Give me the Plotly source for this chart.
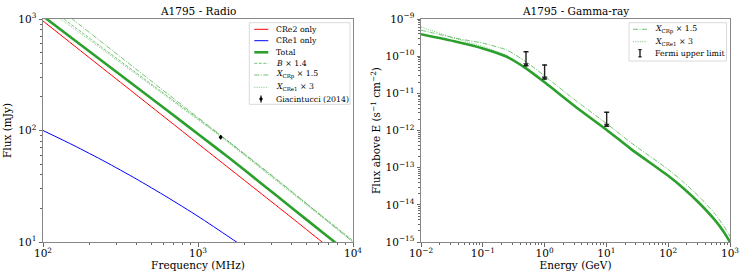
import plotly.graph_objects as go

# ---------------- data ----------------
# Radio panel (frequency in MHz, flux in mJy)
cre2_freq = [100, 158.5, 251.2, 398.1, 631, 1000, 1585, 2512, 3981, 6310, 10000]
cre2_flux = [960, 578, 348, 210, 126.5, 76.2, 45.9, 27.7, 16.7, 10.0, 6.0]

cre1_freq = [100, 158.5, 251.2, 398.1, 631, 1000, 1585, 2512]
cre1_flux = [100, 73.3, 52.6, 36.9, 25.3, 17.0, 11.1, 7.2]

total_freq = [100, 158.5, 251.2, 398.1, 631, 1000, 1585, 2512, 3981, 6310, 10000]
total_flux = [1060, 651, 401, 247, 152, 93, 57, 34.2, 20.5, 12.3, 7.4]

b14_freq = [100, 136.5, 569, 1430, 3000, 10000]
b14_flux = [1400, 1000, 228, 88, 39, 10.3]

xcrp_freq = [100, 154.5, 569, 1430, 3000, 10000]
xcrp_flux = [1607, 1000, 241, 88.5, 39.5, 10]

xcre1_freq = [100, 130, 569, 1430, 3000, 10000]
xcre1_flux = [1283, 1000, 222, 86, 38, 10]

giac_freq = [1400]
giac_flux = [87]
giac_err = [4]

# Gamma-ray panel (energy in GeV, integral flux in s^-1 cm^-2)
g_energy = [0.01, 0.0372, 0.1, 0.24, 0.5, 1.05, 3.16, 10, 25.1, 100, 177.8, 316.2, 562.3, 794.3, 1000]
g_total = [3.89e-10, 2.45e-10, 1.62e-10, 9.77e-11, 4.68e-11, 1.86e-11, 4.37e-12, 1.05e-12,
           3.16e-13, 6.03e-14, 2.75e-14, 1.12e-14, 3.98e-15, 1.86e-15, 1.0e-15]
g_xcrp = [5.01e-10, 3.02e-10, 2.24e-10, 1.48e-10, 7.08e-11, 2.75e-11, 6.46e-12, 1.55e-12,
          4.68e-13, 8.91e-14, 4.07e-14, 1.66e-14, 5.89e-15, 2.69e-15, 1.41e-15]
g_xcre1 = [6.10e-10, 2.95e-10, 1.82e-10, 1.05e-10, 4.90e-11, 1.95e-11, 4.57e-12, 1.10e-12,
           3.31e-13, 6.31e-14, 2.88e-14, 1.17e-14, 4.17e-15, 1.95e-15, 1.05e-15]

fermi_energy = [0.5, 1.0, 10.1]
fermi_ul = [1.32e-10, 5.8e-11, 3.1e-12]

# tick labels
r_xticks = [100, 1000, 10000]
r_xtext = ["10<sup>2</sup>", "10<sup>3</sup>", "10<sup>4</sup>"]
r_yticks = [10, 100, 1000]
r_ytext = ["10<sup>1</sup>", "10<sup>2</sup>", "10<sup>3</sup>"]
g_xticks = [0.01, 0.1, 1, 10, 100, 1000]
g_xtext = ["10<sup>−2</sup>", "10<sup>−1</sup>", "10<sup>0</sup>", "10<sup>1</sup>", "10<sup>2</sup>", "10<sup>3</sup>"]
g_yticks = [1e-15, 1e-14, 1e-13, 1e-12, 1e-11, 1e-10, 1e-9]
g_ytext = ["10<sup>−15</sup>", "10<sup>−14</sup>", "10<sup>−13</sup>", "10<sup>−12</sup>",
           "10<sup>−11</sup>", "10<sup>−10</sup>", "10<sup>−9</sup>"]

# ---------------- styling ----------------
W, H = 747, 280
FONT = "DejaVu Serif"
GREEN = "#2ca02c"
LGREEN = "rgba(44,160,44,0.72)"
DASH_B = "3px,1.5px"
DASH_CRP = "5px,1.5px,1px,1.5px"
DASH_CRE1 = "1px,1.3px"
SMOOTH = 0.6


def px(x):
    return x / W


def py(y):
    return 1 - y / H


def minor_vals(lo, hi):
    vals = []
    for e in range(lo, hi):
        for m in range(2, 10):
            vals.append(m * 10 ** e)
    return vals


def curve(x, y, color, width, dash, xa, ya):
    return go.Scatter(x=x, y=y, mode="lines",
                      line=dict(color=color, width=width, dash=dash, shape="spline", smoothing=SMOOTH),
                      xaxis=xa, yaxis=ya, showlegend=False)


fig = go.Figure()

# Radio panel
fig.add_trace(curve(cre2_freq, cre2_flux, "red", 1, "solid", "x", "y"))
fig.add_trace(curve(cre1_freq, cre1_flux, "blue", 1, "solid", "x", "y"))
fig.add_trace(curve(b14_freq, b14_flux, LGREEN, 0.9, DASH_B, "x", "y"))
fig.add_trace(curve(xcrp_freq, xcrp_flux, LGREEN, 0.9, DASH_CRP, "x", "y"))
fig.add_trace(curve(xcre1_freq, xcre1_flux, LGREEN, 0.9, DASH_CRE1, "x", "y"))
fig.add_trace(curve(total_freq, total_flux, GREEN, 2.6, "solid", "x", "y"))
fig.add_trace(go.Scatter(x=giac_freq, y=giac_flux, mode="markers",
                         marker=dict(color="black", size=3.5),
                         error_y=dict(type="data", array=giac_err, color="black", thickness=1.2, width=0),
                         xaxis="x", yaxis="y", showlegend=False))

# Gamma panel
fig.add_trace(curve(g_energy, g_xcrp, LGREEN, 0.9, DASH_CRP, "x2", "y2"))
fig.add_trace(curve(g_energy, g_xcre1, LGREEN, 0.9, DASH_CRE1, "x2", "y2"))
fig.add_trace(curve(g_energy, g_total, GREEN, 2.6, "solid", "x2", "y2"))
ARROW = 0.42
fig.add_trace(go.Scatter(x=fermi_energy, y=fermi_ul, mode="markers",
                         marker=dict(color="black", size=1),
                         error_y=dict(type="data", symmetric=False, array=[0] * len(fermi_ul),
                                      arrayminus=[u * (1 - ARROW) for u in fermi_ul],
                                      color="#222", thickness=1.4, width=2.5),
                         xaxis="x2", yaxis="y2", showlegend=False))
fig.add_trace(go.Scatter(x=fermi_energy, y=[u * ARROW * 1.08 for u in fermi_ul], mode="markers",
                         marker=dict(color="#222", size=5, symbol="triangle-down"),
                         showlegend=False, xaxis="x2", yaxis="y2"))

axis_common = dict(type="log", showgrid=False, zeroline=False, showline=True, linecolor="#888",
                   linewidth=1, mirror=True, ticks="outside", ticklen=3.5, tickcolor="#666",
                   automargin=False,
                   tickfont=dict(family=FONT, size=10.5, color="black"),
                   title_font=dict(family=FONT, size=10.5, color="black"))

fig.update_layout(
    width=W, height=H, margin=dict(l=0, r=0, t=0, b=0),
    paper_bgcolor="white", plot_bgcolor="white", showlegend=False,
    font=dict(family=FONT, color="black"),
    xaxis=dict(axis_common, domain=[px(43), px(353)], range=[2, 4], anchor="y",
               tickvals=r_xticks, ticktext=r_xtext, ticklabelstandoff=-2,
               minor=dict(tickvals=minor_vals(2, 4), ticks="outside", ticklen=2, tickcolor="#666"),
               title=dict(text="Frequency (MHz)", standoff=0)),
    yaxis=dict(axis_common, domain=[py(242), py(19)], range=[1, 3], anchor="x",
               tickvals=r_yticks, ticktext=r_ytext,
               minor=dict(tickvals=minor_vals(1, 3), ticks="outside", ticklen=2, tickcolor="#666"),
               title=dict(text="Flux (mJy)", standoff=4)),
    xaxis2=dict(axis_common, domain=[px(421), px(730)], range=[-2, 3], anchor="y2",
                tickvals=g_xticks, ticktext=g_xtext, ticklabelstandoff=-2,
                minor=dict(tickvals=minor_vals(-2, 3), ticks="outside", ticklen=2, tickcolor="#666"),
                title=dict(text="Energy (GeV)", standoff=0)),
    yaxis2=dict(axis_common, domain=[py(242), py(19)], range=[-15, -9], anchor="x2",
                tickvals=g_yticks, ticktext=g_ytext,
                minor=dict(tickvals=minor_vals(-15, -9), ticks="outside", ticklen=2, tickcolor="#666"),
                title=dict(text="Flux above E (s<sup>−1</sup> cm<sup>−2</sup>)", standoff=2)),
)

annotations = [
    dict(text="A1795 - Radio", x=px(198), y=py(11), xref="paper", yref="paper", showarrow=False,
         font=dict(family=FONT, size=10.5, color="black"), xanchor="center", yanchor="middle"),
    dict(text="A1795 - Gamma-ray", x=px(575.5), y=py(11), xref="paper", yref="paper", showarrow=False,
         font=dict(family=FONT, size=10.5, color="black"), xanchor="center", yanchor="middle"),
]
shapes = []

# ---- legend (left) ----
shapes.append(dict(type="rect", xref="paper", yref="paper", x0=px(249.3), x1=px(350), y0=py(104.3), y1=py(22.7),
                   fillcolor="white", line=dict(color="#d0d0d0", width=0.8), layer="above"))
left_items = [
    ("CRe2 only", "red", 1, "solid"),
    ("CRe1 only", "blue", 1, "solid"),
    ("Total", GREEN, 2.6, "solid"),
    ("<i>B</i> × 1.4", LGREEN, 0.9, DASH_B),
    ("<i>X</i><sub>CRp</sub> × 1.5", LGREEN, 0.9, DASH_CRP),
    ("<i>X</i><sub>CRe1</sub> × 3", LGREEN, 0.9, DASH_CRE1),
    ("Giacintucci (2014)", None, None, None),
]
left_y = [29.3, 40.7, 52.3, 63.3, 75, 87.3, 99]
for (label, col, w, dash), yy in zip(left_items, left_y):
    if col is not None:
        shapes.append(dict(type="line", xref="paper", yref="paper", x0=px(254.3), x1=px(268.3),
                           y0=py(yy), y1=py(yy), line=dict(color=col, width=w, dash=dash), layer="above"))
    else:
        shapes.append(dict(type="line", xref="paper", yref="paper", x0=px(261), x1=px(261),
                           y0=py(yy - 3.5), y1=py(yy + 3.5), line=dict(color="black", width=1.2), layer="above"))
        shapes.append(dict(type="circle", xref="paper", yref="paper", x0=px(259.6), x1=px(262.4),
                           y0=py(yy - 1.4), y1=py(yy + 1.4), fillcolor="black", line=dict(color="black", width=0.5),
                           layer="above"))
    annotations.append(dict(text=label, x=px(274), y=py(yy), xref="paper", yref="paper", showarrow=False,
                            xanchor="left", yanchor="middle", font=dict(family=FONT, size=7.8, color="black")))

# ---- legend (right) ----
shapes.append(dict(type="rect", xref="paper", yref="paper", x0=px(629), x1=px(726.5), y0=py(61), y1=py(22.7),
                   fillcolor="white", line=dict(color="#d0d0d0", width=0.8), layer="above"))
right_items = [
    ("<i>X</i><sub>CRp</sub> × 1.5", LGREEN, 0.9, DASH_CRP),
    ("<i>X</i><sub>CRe1</sub> × 3", LGREEN, 0.9, DASH_CRE1),
    ("Fermi upper limit", None, None, None),
]
right_y = [29.3, 41.7, 53.3]
for (label, col, w, dash), yy in zip(right_items, right_y):
    if col is not None:
        shapes.append(dict(type="line", xref="paper", yref="paper", x0=px(633), x1=px(647),
                           y0=py(yy), y1=py(yy), line=dict(color=col, width=w, dash=dash), layer="above"))
    else:
        shapes.append(dict(type="line", xref="paper", yref="paper", x0=px(640), x1=px(640),
                           y0=py(yy - 3.6), y1=py(yy + 3.6), line=dict(color="black", width=1.2), layer="above"))
        for dy in (-3.6, 3.6):
            shapes.append(dict(type="line", xref="paper", yref="paper", x0=px(638.3), x1=px(641.7),
                               y0=py(yy + dy), y1=py(yy + dy), line=dict(color="black", width=1), layer="above"))
    annotations.append(dict(text=label, x=px(652.5), y=py(yy), xref="paper", yref="paper", showarrow=False,
                            xanchor="left", yanchor="middle", font=dict(family=FONT, size=7.8, color="black")))

fig.update_layout(annotations=annotations, shapes=shapes)

fig.write_html("out.html", config={"displayModeBar": False},
               post_script="document.body.style.margin='0px';document.body.style.overflow='hidden';")
